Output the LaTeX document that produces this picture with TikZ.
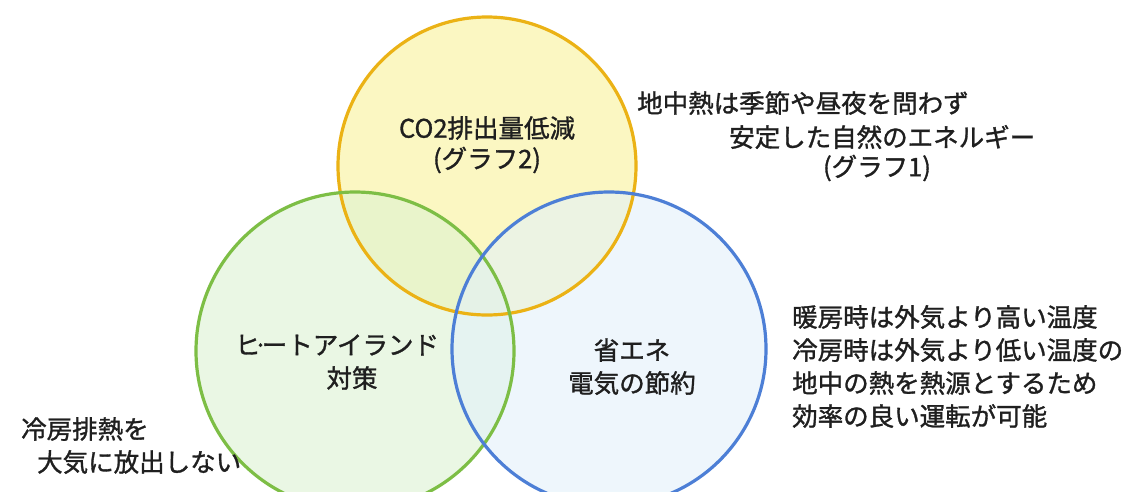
\documentclass[tikz,border=0pt]{standalone}
\usepackage{fontspec}
\newfontfamily\jp[FakeBold=1.2]{Noto Sans CJK JP}
\definecolor{ylw}{HTML}{EBB215}
\definecolor{grn}{HTML}{7DBE45}
\definecolor{blu}{HTML}{4D7FD6}
\definecolor{ylwfill}{HTML}{FBF6B8}
\definecolor{grnfill}{HTML}{DDF2D2}
\definecolor{blufill}{HTML}{E3F1FA}
\begin{document}
\begin{tikzpicture}[x=1pt,y=-1pt,
  ring/.style={circle, inner sep=0pt, line width=3.2pt},
  txt/.style={inner sep=0pt, font=\jp\fontsize{25.5}{33}\selectfont, text=black!88}]
\useasboundingbox (0,0) rectangle (1145,491);
\clip (0,0) rectangle (1145,491);
\fill[white] (0,0) rectangle (1145,491);
% fills
\fill[ylwfill, fill opacity=0.85] (487,166) circle[radius=149];
\fill[grnfill, fill opacity=0.6] (355,351) circle[radius=159];
\fill[blufill, fill opacity=0.6] (609,349) circle[radius=157];
% rings
\node[ring, draw=ylw, minimum size=298pt] (yc) at (487,166) {};
\node[ring, draw=grn, minimum size=318pt] (gc) at (355,351) {};
\node[ring, draw=blu, minimum size=314pt] (bc) at (609,349) {};
% circle labels
\node[txt] (co2) at (487,128) {CO2排出量低減};
\node[txt] (gr2) at (487,160) {(グラフ2)};
\node[txt] (hi) at (337,345) {ヒ\kern-7pt·\kern-6ptートアイランド};
\node[txt] (tai) at (352,378) {対策};
\node[txt] (sho) at (632,350) {省エネ};
\node[txt] (den) at (632,383) {電気の節約};
% side texts
\node[txt, anchor=west] (t1) at (637,103) {地中熱は季節や昼夜を問わず};
\node[txt, anchor=west] (t2) at (729,137) {安定した自然のエネルギー};
\node[txt] (t3) at (877,168) {(グラフ1)};
\node[txt, anchor=west] (r1) at (792,317) {暖房時は外気より高い温度};
\node[txt, anchor=west] (r2) at (792,350) {冷房時は外気より低い温度の};
\node[txt, anchor=west] (r3) at (792,383) {地中の熱を熱源とするため};
\node[txt, anchor=west] (r4) at (792,416) {効率の良い運転が可能};
\node[txt, anchor=west] (l1) at (21,429) {冷房排熱を};
\node[txt, anchor=west] (l2) at (37,462) {大気に放出しない};
\end{tikzpicture}
\end{document}
